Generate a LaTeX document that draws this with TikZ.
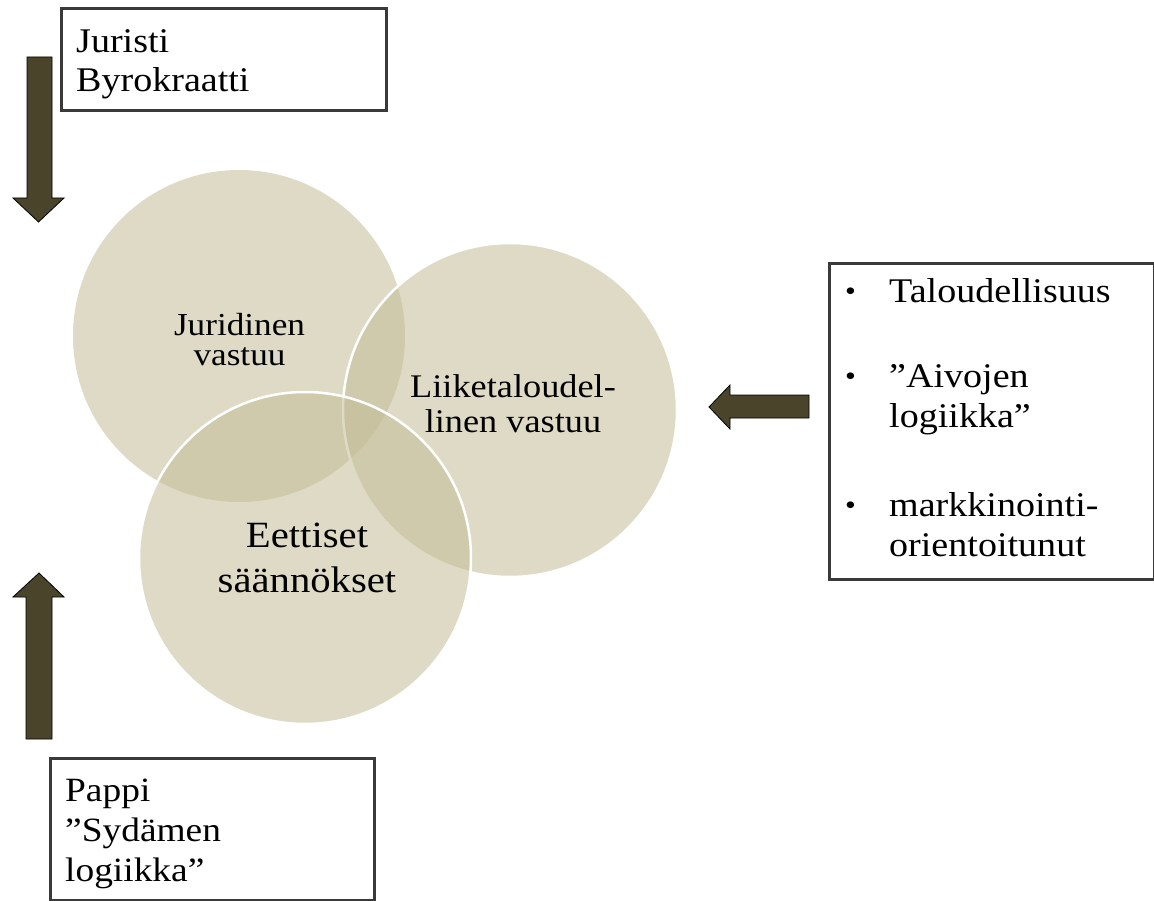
\documentclass[tikz,border=0pt]{standalone}
\usepackage{fontspec}
\setmainfont[FakeStretch=1.1]{Liberation Serif}
\definecolor{circfill}{RGB}{196,189,151}
\definecolor{arrowfill}{RGB}{74,69,42}
\definecolor{boxline}{RGB}{58,58,58}
\newcommand{\bul}{\raisebox{2pt}{\fontsize{28}{28}\selectfont•}}
\begin{document}
\begin{tikzpicture}[x=1pt,y=-1pt,
  circ/.style={fill=circfill,fill opacity=0.55},
  circline/.style={draw=white,line width=2.5pt},
  boxframe/.style={draw=boxline,line width=3pt,fill=white,inner sep=0pt,anchor=north west},
  blockarrow/.style={fill=arrowfill,draw=black,line width=0.8pt,line join=miter},
  txt/.style={inner sep=0pt,text=black}]
\fill[white] (0,0) rectangle (1154,901);
\useasboundingbox (0,0) rectangle (1154,901);

% circles
\fill[circ] (239,336) circle (166);
\fill[circ] (510,410) circle (167);
\draw[circline] (510,410) circle (167);
\fill[circ] (305,558) circle (166);
\draw[circline] (305,558) circle (166);

% circle labels
\node[txt,anchor=base] (jur) at (239.5,335)
  {\fontsize{32}{31}\selectfont\begin{tabular}[t]{@{}c@{}}Juridinen\\vastuu\end{tabular}};
\node[txt,anchor=base] (liike) at (513,397)
  {\fontsize{33}{35}\selectfont\begin{tabular}[t]{@{}c@{}}Liiketaloudel-\\linen vastuu\end{tabular}};
\node[txt,anchor=base] (eet) at (307,547)
  {\fontsize{37}{45}\selectfont\begin{tabular}[t]{@{}c@{}}Eettiset\\säännökset\end{tabular}};

% boxes
\node[boxframe,minimum width=325pt,minimum height=102pt] (jbox) at (60,7) {};
\node[txt,anchor=base west] (jtext) at (76,53)
  {\fontsize{34.6}{39}\selectfont\begin{tabular}[t]{@{}l@{}}Juristi\\Byrokraatti\end{tabular}};

\node[boxframe,minimum width=324pt,minimum height=142pt] (pbox) at (49,757) {};
\node[txt,anchor=base west] (ptext) at (65,801)
  {\fontsize{34}{40}\selectfont\begin{tabular}[t]{@{}l@{}}Pappi\\”Sydämen\\logiikka”\end{tabular}};

\node[boxframe,minimum width=325pt,minimum height=316pt] (rbox) at (828,262) {};
\node[txt,anchor=base west] (rtext) at (845,303)
  {\fontsize{34.6}{40}\selectfont\begin{tabular}[t]{@{}p{44pt}@{}l@{}}
   \bul & Taloudellisuus\\[45pt]
   \bul & ”Aivojen\\
        & logiikka”\\[49pt]
   \bul & markkinointi-\\
        & orientoitunut
  \end{tabular}};

% block arrows
\draw[blockarrow] (27,57) -- (52,57) -- (52,198) -- (64,198) -- (38.5,222) -- (13,198) -- (27,198) -- cycle;
\draw[blockarrow] (26,739) -- (52,739) -- (52,597) -- (64,597) -- (39,573) -- (13,597) -- (26,597) -- cycle;
\draw[blockarrow] (809,395) -- (809,418) -- (730,418) -- (730,429) -- (709,407) -- (730,385) -- (730,395) -- cycle;
\end{tikzpicture}
\end{document}
